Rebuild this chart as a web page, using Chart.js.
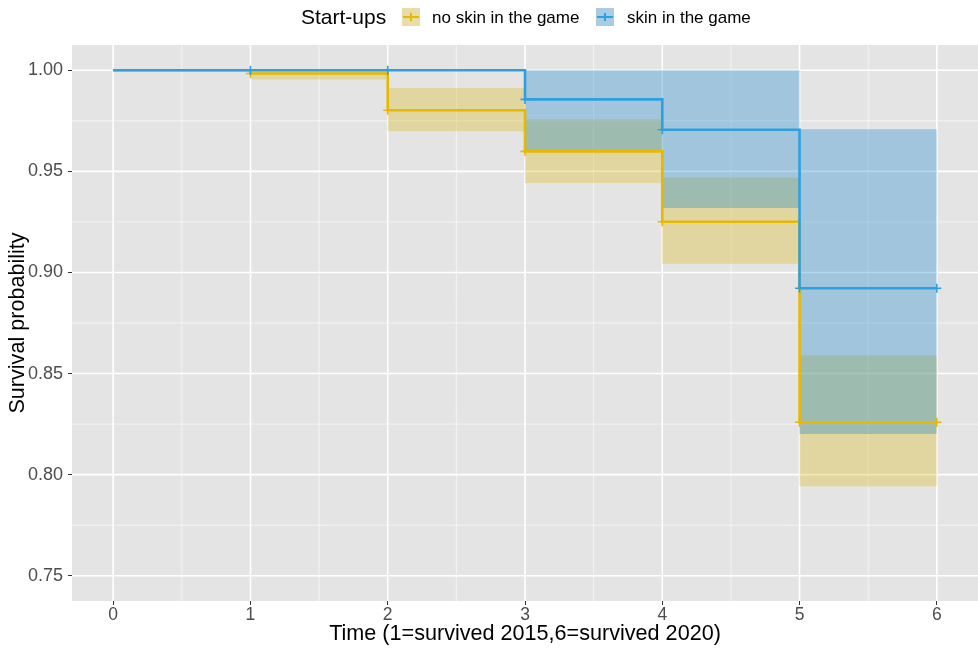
<!DOCTYPE html>
<html>
<head>
<meta charset="utf-8">
<title>Start-up survival</title>
<script src="https://cdn.jsdelivr.net/npm/chart.js@4/dist/chart.umd.min.js"></script>
<style>
  html, body { margin: 0; padding: 0; background: #ffffff; }
  #wrap { width: 978px; height: 648px; }
  canvas { display: block; }
</style>
</head>
<body>
<div id="wrap"><canvas id="km" width="978" height="648"></canvas></div>
<script>
// Kaplan-Meier estimates by group, with 95% confidence limits
const times = [0, 1, 2, 3, 4, 5, 6];

const noSkinSurv  = [1.0000, 0.9984, 0.9802, 0.9599, 0.9251, 0.8259, 0.8259];
const noSkinUpper = [1.0000, 1.0000, 0.9912, 0.9756, 0.9469, 0.8589, 0.8589];
const noSkinLower = [1.0000, 0.9954, 0.9698, 0.9442, 0.9043, 0.7942, 0.7942];

const skinSurv  = [1.0000, 1.0000, 1.0000, 0.9856, 0.9706, 0.8922, 0.8922];
const skinUpper = [1.0000, 1.0000, 1.0000, 1.0000, 1.0000, 0.9708, 0.9708];
const skinLower = [1.0000, 1.0000, 1.0000, 0.9599, 0.9319, 0.8201, 0.8201];

// censoring marks
const noSkinCensorTimes = [1, 2, 3, 4, 5, 6];
const noSkinCensorSurv  = [0.9984, 0.9802, 0.9599, 0.9251, 0.8259, 0.8259];
const skinCensorTimes   = [1, 2, 3, 4, 5, 6];
const skinCensorSurv    = [1.0000, 1.0000, 0.9856, 0.9706, 0.8922, 0.8922];

const groupNames = ['no skin in the game', 'skin in the game'];
const legendTitle = 'Start-ups';

// axis breaks
const xTicks = [0, 1, 2, 3, 4, 5, 6];
const xMinor = [0.5, 1.5, 2.5, 3.5, 4.5, 5.5];
const yTicks = [0.75, 0.80, 0.85, 0.90, 0.95, 1.00];
const yMinor = [0.775, 0.825, 0.875, 0.925, 0.975];

const xTitle = 'Time (1=survived 2015,6=survived 2020)';
const yTitle = 'Survival probability';

const YELLOW = '#E7B800';
const BLUE = '#2E9FDF';
const YELLOW_FILL = 'rgba(220,185,40,0.36)';
const BLUE_FILL = 'rgba(40,140,205,0.36)';
const PANEL = '#E4E4E4';
const FONT = '"Liberation Sans", Arial, Helvetica, sans-serif';

const pts = (xs, ys) => xs.map((x, i) => ({ x: x, y: ys[i] }));

const panelPlugin = {
  id: 'panel',
  beforeDatasetsDraw(chart) {
    const { ctx, chartArea: a, scales } = chart;
    const xs = scales.x, ys = scales.y;
    ctx.save();
    ctx.fillStyle = PANEL;
    ctx.fillRect(a.left, a.top, a.right - a.left, a.bottom - a.top);
    ctx.strokeStyle = 'rgba(255,255,255,0.75)';
    ctx.lineWidth = 0.8;
    ctx.beginPath();
    xMinor.forEach(v => { const p = xs.getPixelForValue(v); ctx.moveTo(p, a.top); ctx.lineTo(p, a.bottom); });
    yMinor.forEach(v => { const p = ys.getPixelForValue(v); ctx.moveTo(a.left, p); ctx.lineTo(a.right, p); });
    ctx.stroke();
    ctx.strokeStyle = '#ffffff';
    ctx.lineWidth = 1.6;
    ctx.beginPath();
    xTicks.forEach(v => { const p = xs.getPixelForValue(v); ctx.moveTo(p, a.top); ctx.lineTo(p, a.bottom); });
    yTicks.forEach(v => { const p = ys.getPixelForValue(v); ctx.moveTo(a.left, p); ctx.lineTo(a.right, p); });
    ctx.stroke();
    ctx.restore();
  },
  afterDraw(chart) {
    const ctx = chart.ctx;
    const cy = 17;
    ctx.save();
    ctx.textBaseline = 'middle';
    ctx.textAlign = 'left';
    ctx.fillStyle = '#000000';
    ctx.font = '21px ' + FONT;
    ctx.fillText(legendTitle, 301, cy + 1);
    const keys = [
      { x: 402, text: groupNames[0], line: YELLOW, fill: YELLOW_FILL, tx: 432 },
      { x: 596, text: groupNames[1], line: BLUE, fill: BLUE_FILL, tx: 627 }
    ];
    ctx.font = '17px ' + FONT;
    keys.forEach(k => {
      ctx.fillStyle = '#F0F0F0';
      ctx.fillRect(k.x, cy - 9, 18, 18);
      ctx.fillStyle = k.fill;
      ctx.fillRect(k.x, cy - 9, 18, 18);
      ctx.strokeStyle = k.line;
      ctx.lineWidth = 2;
      ctx.beginPath();
      ctx.moveTo(k.x + 1, cy); ctx.lineTo(k.x + 17, cy);
      ctx.moveTo(k.x + 9, cy - 4); ctx.lineTo(k.x + 9, cy + 4);
      ctx.stroke();
      ctx.fillStyle = '#000000';
      ctx.fillText(k.text, k.tx, cy + 1);
    });
    ctx.restore();
  }
};

// stepped 'before': each value holds from its own time until the next one
const band = (data, color, fill, order) => ({
  type: 'line', data: data, stepped: 'before', borderWidth: 0, pointRadius: 0,
  borderColor: 'rgba(0,0,0,0)', backgroundColor: color, fill: fill, order: order
});

new Chart(document.getElementById('km'), {
  type: 'line',
  data: {
    datasets: [
      // no skin in the game: confidence band
      band(pts(times, noSkinUpper), YELLOW_FILL, false, 5),
      band(pts(times, noSkinLower), YELLOW_FILL, '-1', 5),
      // skin in the game: confidence band
      band(pts(times, skinUpper), BLUE_FILL, false, 4),
      band(pts(times, skinLower), BLUE_FILL, '-1', 4),
      // survival curves
      { type: 'line', label: groupNames[0], data: pts(times, noSkinSurv), stepped: 'before',
        borderColor: YELLOW, borderWidth: 2.6, pointRadius: 0, fill: false, order: 3 },
      { type: 'line', label: groupNames[1], data: pts(times, skinSurv), stepped: 'before',
        borderColor: BLUE, borderWidth: 2.6, pointRadius: 0, fill: false, order: 2 },
      // censoring marks
      { type: 'scatter', data: pts(noSkinCensorTimes, noSkinCensorSurv), pointStyle: 'cross',
        pointRadius: 4.5, borderColor: YELLOW, borderWidth: 1.6, order: 1 },
      { type: 'scatter', data: pts(skinCensorTimes, skinCensorSurv), pointStyle: 'cross',
        pointRadius: 4.5, borderColor: BLUE, borderWidth: 1.6, order: 0 }
    ]
  },
  options: {
    responsive: false,
    animation: false,
    devicePixelRatio: 1,
    layout: { autoPadding: false, padding: { top: 45, left: 0, right: 0, bottom: 0 } },
    plugins: { legend: { display: false }, tooltip: { enabled: false }, title: { display: false } },
    scales: {
      x: {
        type: 'linear', min: -0.3, max: 6.3,
        afterBuildTicks: s => { s.ticks = xTicks.map(v => ({ value: v })); },
        afterFit: s => { s.height = 47; s.paddingLeft = 0; s.paddingRight = 0; },
        grid: { drawOnChartArea: false, drawTicks: true, tickLength: 4, color: '#333333', lineWidth: 1 },
        border: { display: false },
        ticks: { color: '#4D4D4D', font: { family: FONT, size: 17.5 }, padding: 0, maxRotation: 0,
                 callback: v => String(v) },
        title: { display: true, text: xTitle, color: '#000000',
                 font: { family: FONT, size: 21.6, lineHeight: 1.2 }, padding: { top: 0, bottom: 1 } }
      },
      y: {
        type: 'linear', min: 0.7375, max: 1.0125,
        afterBuildTicks: s => { s.ticks = yTicks.map(v => ({ value: v })); },
        afterFit: s => { s.width = 72; },
        grid: { drawOnChartArea: false, drawTicks: true, tickLength: 4, color: '#333333', lineWidth: 1 },
        border: { display: false },
        ticks: { color: '#4D4D4D', font: { family: FONT, size: 18 }, padding: 5,
                 callback: v => Number(v).toFixed(2) },
        title: { display: true, text: yTitle, color: '#000000',
                 font: { family: FONT, size: 21.6, lineHeight: 1.2 }, padding: { top: 5, bottom: 0 } }
      }
    }
  },
  plugins: [panelPlugin]
});
</script>
</body>
</html>
